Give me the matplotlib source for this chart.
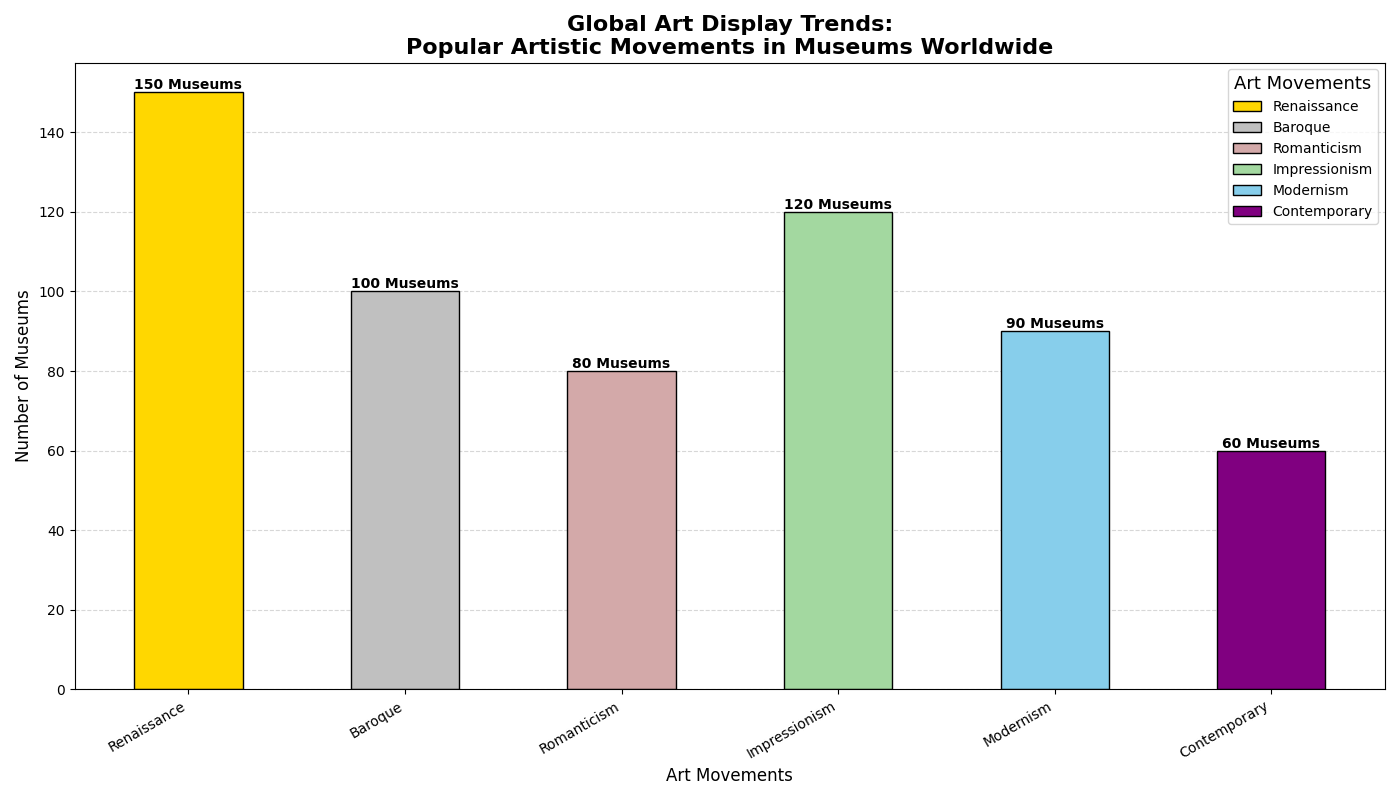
import matplotlib
matplotlib.use("Agg")
import matplotlib.pyplot as plt

movements = ["Renaissance", "Baroque", "Romanticism", "Impressionism", "Modernism", "Contemporary"]
museums = [150, 100, 80, 120, 90, 60]
colors = ["#FFD700", "#C0C0C0", "#D3A9A9", "#A3D8A0", "#87CEEB", "#800080"]

fig, ax = plt.subplots(figsize=(14, 8), dpi=100)
bars = ax.bar(movements, museums, width=0.5, color=colors, edgecolor="black", label=movements)

for b, v in zip(bars, museums):
    ax.text(b.get_x() + b.get_width() / 2, v, f"{v} Museums",
            ha="center", va="bottom", fontsize=10, fontweight="bold")

ax.set_title("Global Art Display Trends:\nPopular Artistic Movements in Museums Worldwide",
             fontsize=16, fontweight="bold")
ax.set_xlabel("Art Movements", fontsize=12)
ax.set_ylabel("Number of Museums", fontsize=12)
ax.yaxis.grid(True, linestyle="--", alpha=0.5)
ax.set_axisbelow(True)
plt.xticks(rotation=30, ha="right")
ax.legend(title="Art Movements", title_fontsize=13, fontsize=10, loc="upper right")

plt.tight_layout()
plt.savefig("out.png")
plt.close()
